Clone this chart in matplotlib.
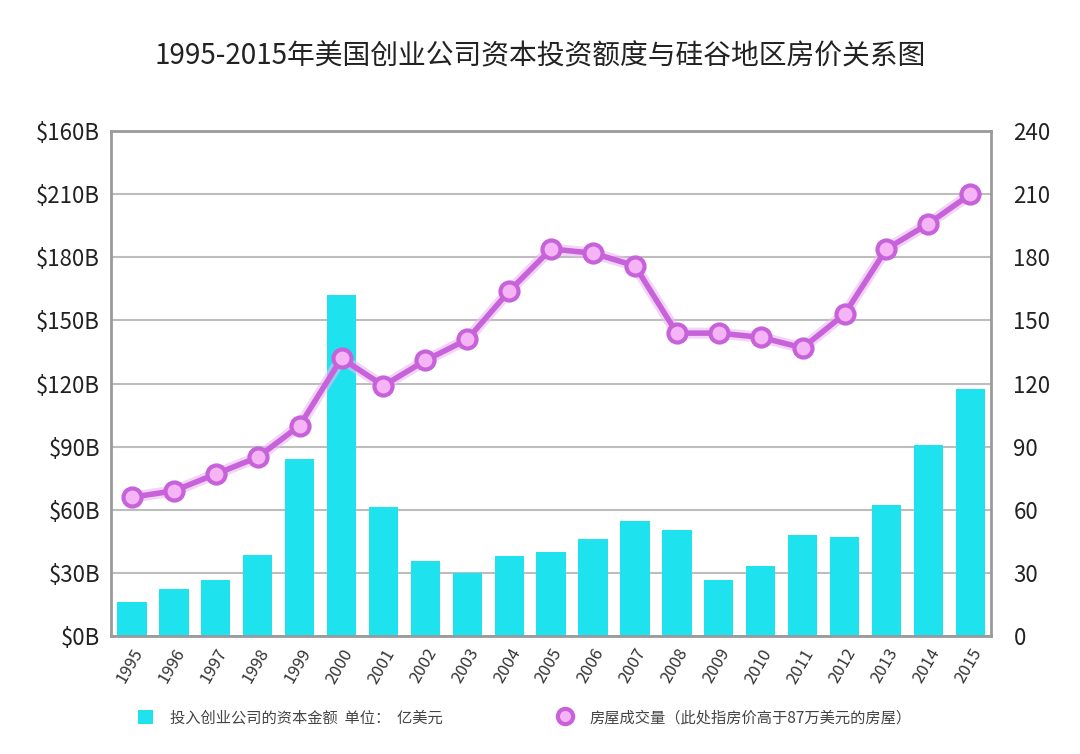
import matplotlib.pyplot as plt
from matplotlib.lines import Line2D
from matplotlib.patches import Patch

plt.rcParams['font.family'] = ['Noto Sans CJK SC', 'DejaVu Sans']

years = [str(y) for y in range(1995, 2016)]
capital = [16, 22.5, 26.5, 38.5, 84, 162, 61.5, 35.5, 30, 38, 40,
           46, 54.5, 50.5, 26.5, 33.5, 48, 47, 62.5, 91, 117.5]
houses = [66, 69, 77, 85, 100, 132, 119, 131, 141, 164, 184,
          182, 176, 144, 144, 142, 137, 153, 184, 196, 210]
left_labels = ['$0B', '$30B', '$60B', '$90B', '$120B', '$150B', '$180B', '$210B', '$160B']
right_labels = ['0', '30', '60', '90', '120', '150', '180', '210', '240']
ticks = [0, 30, 60, 90, 120, 150, 180, 210, 240]

bar_color = '#1ee3ee'
line_color = '#c862da'

fig = plt.figure(figsize=(10.8, 7.54), dpi=100)
ax = fig.add_axes([0.1028, 0.1565, 0.815, 0.6695])
x = list(range(len(years)))
bars = ax.bar(x, capital, width=0.7, color=bar_color, zorder=2)
ax.set_xlim(-0.5, len(years) - 0.5)
ax.set_ylim(0, 240)
ax.set_yticks(ticks)
ax.set_yticklabels(left_labels, fontsize=16, color='#222222')
ax.set_xticks(x)
ax.set_xticklabels(years, rotation=60, ha='right', rotation_mode='anchor',
                   fontsize=12, color='#333333')
ax.grid(axis='y', color='#bdbdbd', linewidth=1.5, zorder=0)
ax.tick_params(length=0, pad=8)
ax.tick_params(axis='x', pad=7)
for s in ax.spines.values():
    s.set_color('#9a9a9a')
    s.set_linewidth(2)

ax2 = ax.twinx()
ax2.set_ylim(0, 240)
ax2.set_yticks(ticks)
ax2.set_yticklabels(right_labels, fontsize=16, color='#222222')
ax2.tick_params(length=0, pad=16)
for s in ax2.spines.values():
    s.set_visible(False)
# soft glow under the line
ax2.plot(x, houses, color='#eab8f2', linewidth=8, alpha=0.6, zorder=2)
line, = ax2.plot(x, houses, color=line_color, linewidth=4, marker='o',
                 markersize=13, markerfacecolor='#f4b4f6',
                 markeredgecolor=line_color, markeredgewidth=3, zorder=3)

fig.text(0.5, 0.925, '1995-2015年美国创业公司资本投资额度与硅谷地区房价关系图',
         ha='center', va='center', fontsize=20, color='#222222')

h1 = Patch(facecolor=bar_color, edgecolor='none')
h2 = Line2D([], [], linestyle='none', marker='o', markersize=11,
            markerfacecolor='#f4b4f6', markeredgecolor=line_color, markeredgewidth=3)
fig.legend([h1, h2],
           ['投入创业公司的资本金额  单位：  亿美元',
            '房屋成交量（此处指房价高于87万美元的房屋）'],
           loc='center left', bbox_to_anchor=(0.115, 0.048), ncol=2,
           frameon=False, fontsize=11, labelcolor='#444444',
           columnspacing=7.5, handlelength=1.0, handleheight=1.0, handletextpad=1.1)

fig.savefig('out.png', dpi=100, facecolor='white')
